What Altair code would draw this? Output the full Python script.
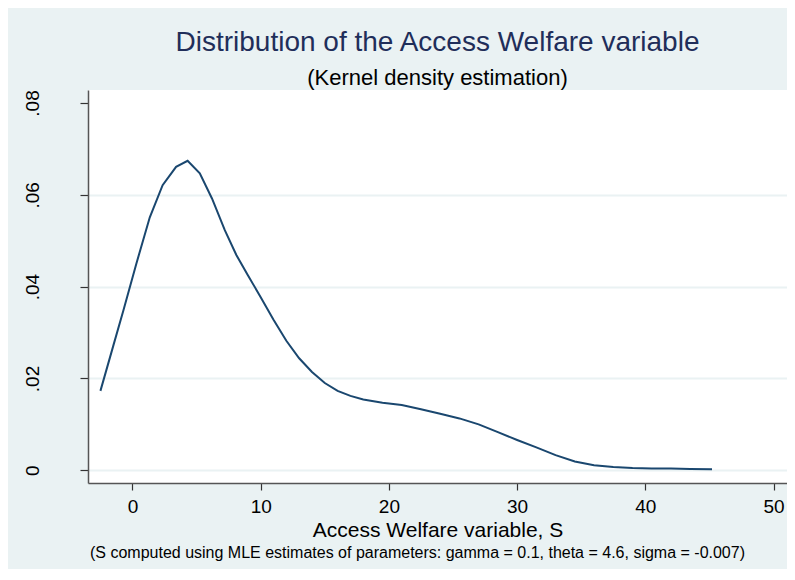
import altair as alt
import pandas as pd

# Kernel density curve
s_vals = [-2.5, -1.5, -0.7, 0.3, 1.35, 2.35, 3.4, 4.3, 5.25, 6.2, 7.2, 8.1, 9.0, 10.0,
          11.0, 12.0, 13.0, 14.0, 15.0, 16.0, 17.0, 18.0, 19.5, 21.0, 22.5, 24.0, 25.5,
          27.0, 28.5, 30.0, 31.5, 33.0, 34.5, 36.0, 37.5, 39.0, 40.5, 42.0, 43.5, 45.2]
density = [0.0173, 0.0271, 0.0349, 0.0450, 0.0551, 0.0621, 0.0661, 0.0674, 0.0647,
           0.0592, 0.0523, 0.0469, 0.0425, 0.0377, 0.0328, 0.0282, 0.0244, 0.0214,
           0.0190, 0.0173, 0.0162, 0.0154, 0.0147, 0.0142, 0.0133, 0.0123, 0.0113,
           0.0100, 0.0083, 0.0066, 0.0050, 0.0033, 0.0019, 0.0011, 0.0007, 0.0005,
           0.0004, 0.0004, 0.0003, 0.0002]

x_ticks = [0, 10, 20, 30, 40, 50]
y_ticks = [0, 0.02, 0.04, 0.06, 0.08]

title_text = "Distribution of the Access Welfare variable"
subtitle_text = "(Kernel density estimation)"
x_title = "Access Welfare variable, S"
note_text = "(S computed using MLE estimates of parameters: gamma = 0.1, theta = 4.6, sigma = -0.007)"

df = pd.DataFrame({"s": s_vals, "d": density})
note_df = pd.DataFrame({"t": [note_text]})

FONT = "Liberation Sans"
BG = "#EAF2F3"
W, H = 699, 393

line = alt.Chart(df).mark_line(color="#1A476F", strokeWidth=2, interpolate="linear").encode(
    x=alt.X("s:Q",
            scale=alt.Scale(domain=[-3.47, 51.05], nice=False, zero=False),
            axis=alt.Axis(values=x_ticks, grid=False, title=x_title,
                          domainColor="#555555", domainWidth=1.5,
                          tickColor="#333333", tickSize=7, tickWidth=1.2,
                          labelFont=FONT, labelFontSize=19, labelColor="#000000",
                          labelBaseline="alphabetic", labelPadding=22,
                          titleFont=FONT, titleFontSize=21, titleFontWeight="normal",
                          titleColor="#000000", titleBaseline="alphabetic",
                          titleY=53, titleX=W / 2)),
    y=alt.Y("d:Q",
            scale=alt.Scale(domain=[-0.00277, 0.08283], nice=False, zero=False),
            axis=alt.Axis(values=y_ticks, title=None,
                          labelExpr="datum.value == 0 ? '0' : replace(format(datum.value, '.2f'), '0.', '.')",
                          grid=True, gridColor=BG, gridWidth=2,
                          gridOpacity=alt.condition("datum.value > 0.07", alt.value(0), alt.value(1)),
                          domainColor="#555555", domainWidth=1.5,
                          tickColor="#333333", tickSize=8, tickWidth=1.2,
                          labelFont=FONT, labelFontSize=19, labelColor="#000000",
                          labelAngle=270, labelAlign="center", labelBaseline="alphabetic",
                          labelPadding=42)),
)

note = alt.Chart(note_df).mark_text(align="left", baseline="alphabetic", font=FONT,
                                    fontSize=16, color="#000000").encode(
    x=alt.value(2), y=alt.value(H + 75), text="t:N")

chart = alt.layer(line, note).properties(
    width=W, height=H,
    autosize=alt.AutoSizeParams(type="none"),
    padding={"left": 80, "top": 82, "right": 0, "bottom": 86},
    background=BG,
    title=alt.TitleParams(text=title_text, subtitle=subtitle_text, anchor="middle",
                          font=FONT, fontSize=28, fontWeight="normal", color="#1F2E5A",
                          subtitleFont=FONT, subtitleFontSize=22, subtitleColor="#000000",
                          subtitlePadding=11, offset=1),
).configure_view(fill="#FFFFFF", stroke=None)

chart.save("out.html", embed_options={"renderer": "svg", "actions": False})
